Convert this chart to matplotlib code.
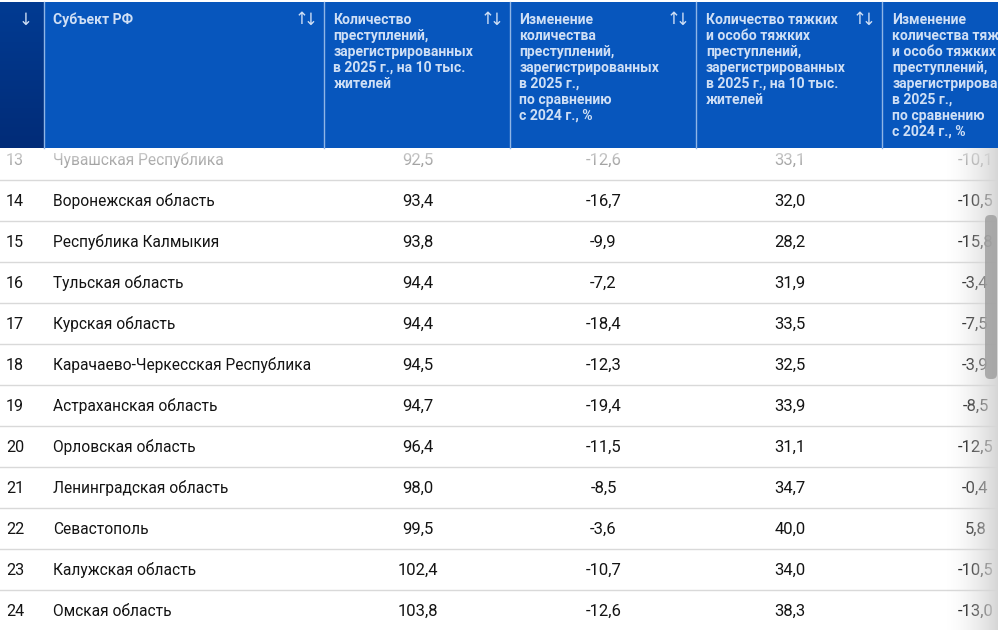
import matplotlib
matplotlib.use('Agg')
import matplotlib.pyplot as plt
import matplotlib.colors as mpc
from matplotlib.patches import Rectangle, FancyBboxPatch
import numpy as np

plt.rcParams['font.family'] = ['Roboto', 'DejaVu Sans']

# Table data
ranks = [13, 14, 15, 16, 17, 18, 19, 20, 21, 22, 23, 24]
regions = ['Чувашская Республика', 'Воронежская область', 'Республика Калмыкия',
           'Тульская область', 'Курская область', 'Карачаево-Черкесская Республика',
           'Астраханская область', 'Орловская область', 'Ленинградская область',
           'Севастополь', 'Калужская область', 'Омская область']
crimes = ['92,5', '93,4', '93,8', '94,4', '94,4', '94,5', '94,7', '96,4', '98,0', '99,5', '102,4', '103,8']
crimes_change = ['-12,6', '-16,7', '-9,9', '-7,2', '-18,4', '-12,3', '-19,4', '-11,5', '-8,5', '-3,6', '-10,7', '-12,6']
grave = ['33,1', '32,0', '28,2', '31,9', '33,5', '32,5', '33,9', '31,1', '34,7', '40,0', '34,0', '38,3']
grave_change = ['-10,1', '-10,5', '-15,8', '-3,4', '-7,5', '-3,9', '-8,5', '-12,5', '-0,4', '5,8', '-10,5', '-13,0']

headers = [
    ['Субъект РФ'],
    ['Количество', 'преступлений,', 'зарегистрированных', 'в 2025 г., на 10 тыс.', 'жителей'],
    ['Изменение', 'количества', 'преступлений,', 'зарегистрированных', 'в 2025 г.,', 'по сравнению', 'с 2024 г., %'],
    ['Количество тяжких', 'и особо тяжких', 'преступлений,', 'зарегистрированных', 'в 2025 г., на 10 тыс.', 'жителей'],
    ['Изменение', 'количества тяжких', 'и особо тяжких', 'преступлений,', 'зарегистрированных', 'в 2025 г.,', 'по сравнению', 'с 2024 г., %'],
]

W, H = 1003, 630
RIGHT = 998
HEAD_TOP, HEAD_BOTTOM = 2, 148
col_lines = [44, 324, 510, 696, 882]
head_x = [53.5, 333.5, 519.5, 706, 892.5]
arrow_x = [306, 492, 678, 864]
value_x = [418, 603.5, 790, 975.5]
# text baselines of the rows
row_y = [165] + [206 + 41 * i for i in range(len(ranks) - 1)]

BLUE = '#0756bd'
HEAD_TEXT = '#cfdff5'
BODY = '#141414'

fig = plt.figure(figsize=(W / 100, H / 100), dpi=100)
ax = fig.add_axes([0, 0, 1, 1])
ax.set_xlim(0, W)
ax.set_ylim(H, 0)
ax.axis('off')

# Row separators
for i in range(len(ranks) - 1):
    y = 180 + 41 * i
    ax.plot([0, RIGHT], [y, y], color='#d9d9d9', lw=1, zorder=1)

# Body text
for i in range(len(ranks)):
    y = row_y[i]
    ax.text(6, y, str(ranks[i]), fontsize=11.6, color=BODY, va='baseline', ha='left', zorder=2)
    ax.text(53, y, regions[i], fontsize=11.2, color=BODY, va='baseline', ha='left', zorder=2)
    for x, vals in zip(value_x, [crimes, crimes_change, grave, grave_change]):
        ax.text(x, y, vals[i], fontsize=12, color=BODY, va='baseline', ha='center', zorder=2)

# Top row fades out under the header
fade = np.ones((40, 2, 4))
fade[:, :, 3] = np.linspace(0.85, 0.45, 40)[:, None]
ax.imshow(fade, extent=[0, RIGHT, 176, 148], aspect='auto', zorder=3, interpolation='bilinear')

# Grey shadow on the right edge
shadow = np.ones((2, 80, 4)) * 0.84
shadow[:, :, 3] = np.linspace(0, 1, 80) ** 1.6
ax.imshow(shadow, extent=[945, RIGHT, H, 148], aspect='auto', zorder=4, interpolation='bilinear')

# Scrollbar, digits show through it a little
ax.add_patch(FancyBboxPatch((985, 215), 12, 164, boxstyle='round,pad=0,rounding_size=5',
                            fc='#9c9c9c', ec='none', alpha=0.8, zorder=5))

# Right gutter stays white
ax.add_patch(Rectangle((RIGHT, 0), W - RIGHT, H, fc='white', ec='none', zorder=6))

# Header
ax.add_patch(Rectangle((0, HEAD_TOP), RIGHT, HEAD_BOTTOM - HEAD_TOP, fc=BLUE, ec='none', zorder=7))
cmap = mpc.LinearSegmentedColormap.from_list('rank', ['#023b92', '#012c78'])
ax.imshow(np.linspace(0, 1, 50)[:, None], cmap=cmap, extent=[0, 44, HEAD_BOTTOM, HEAD_TOP],
          aspect='auto', zorder=7.5)
ax.set_xlim(0, W)
ax.set_ylim(H, 0)
for x in col_lines:
    ax.plot([x + 0.5, x + 0.5], [HEAD_TOP, HEAD_BOTTOM], color='#8fb5e6', lw=1, zorder=8)

clip = Rectangle((0, 0), RIGHT, H, transform=ax.transData)
for x, lines in zip(head_x, headers):
    for j, line in enumerate(lines):
        t = ax.text(x, 24 + 16 * j, line, fontsize=10.05, fontweight='bold', color=HEAD_TEXT,
                    va='baseline', ha='left', zorder=9)
        t.set_clip_path(clip)
        t.set_clip_on(True)

# Sort arrows
ax.text(26, 20, '↓', fontsize=12, color=HEAD_TEXT, va='center', ha='center', zorder=9)
for x in arrow_x:
    ax.text(x - 4.5, 20, '↑', fontsize=12, color=HEAD_TEXT, va='center', ha='center', zorder=9)
    ax.text(x + 4.5, 20, '↓', fontsize=12, color=HEAD_TEXT, va='center', ha='center', zorder=9)

fig.savefig('out.png', dpi=100)
